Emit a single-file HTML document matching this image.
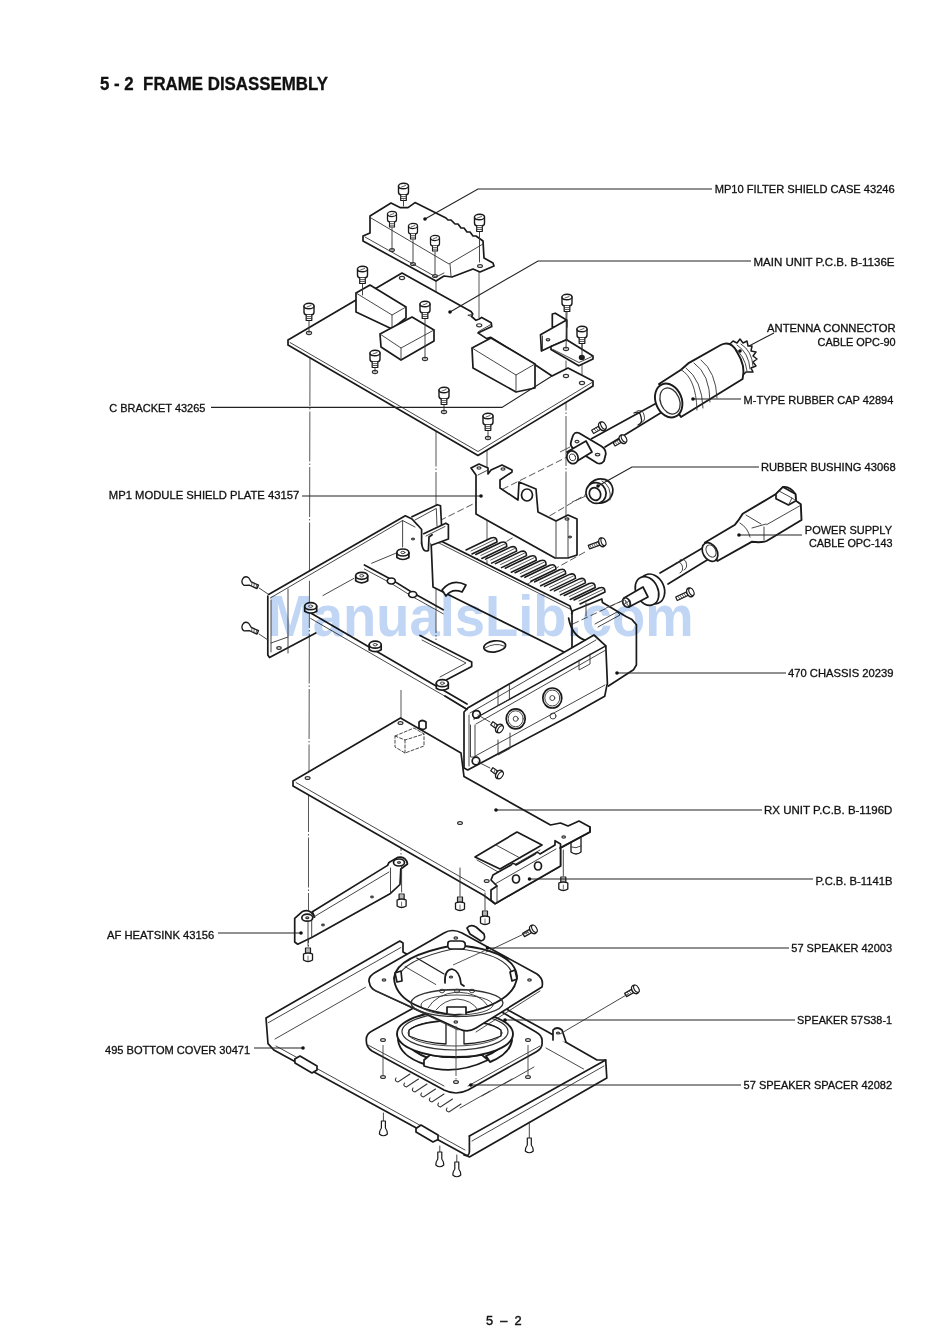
<!DOCTYPE html>
<html><head><meta charset="utf-8"><style>
html,body{margin:0;padding:0;background:#fff;}
body{width:950px;height:1343px;overflow:hidden;}
svg{display:block;}
.t{font-family:"Liberation Sans",sans-serif;font-size:11.1px;fill:#111;stroke:#111;stroke-width:0.3;}
.h{font-family:"Liberation Sans",sans-serif;font-size:17.6px;font-weight:bold;fill:#111;stroke:#111;stroke-width:0.3;}
.ld{stroke:#222;stroke-width:1.1;fill:none;}
.o{stroke:#1a1a1a;stroke-width:1.7;fill:none;stroke-linejoin:round;stroke-linecap:round;}
.f{stroke:#1a1a1a;stroke-width:1.7;fill:#fff;stroke-linejoin:round;stroke-linecap:round;}
.th{stroke:#333;stroke-width:0.9;fill:none;stroke-linecap:round;}
.ds{stroke:#444;stroke-width:0.9;fill:none;stroke-dasharray:50 2 1.5 2;}
.wm{font-family:"Liberation Sans",sans-serif;font-weight:bold;font-size:58px;fill:#c0d6f4;mix-blend-mode:multiply;}
</style></head><body>
<svg width="950" height="1343" viewBox="0 0 950 1343">
<text class="h" x="100" y="89.7" textLength="228" lengthAdjust="spacingAndGlyphs" xml:space="preserve">5 - 2  FRAME DISASSEMBLY</text>

<g id="labels">
<text class="t" x="714.7" y="193.2" textLength="180" lengthAdjust="spacingAndGlyphs">MP10 FILTER SHIELD CASE 43246</text>
<text class="t" x="753.5" y="266" textLength="141" lengthAdjust="spacingAndGlyphs">MAIN UNIT P.C.B. B-1136E</text>
<text class="t" x="767" y="332.3" textLength="128.7" lengthAdjust="spacingAndGlyphs">ANTENNA CONNECTOR</text>
<text class="t" x="817.5" y="345.6" textLength="78.2" lengthAdjust="spacingAndGlyphs">CABLE OPC-90</text>
<text class="t" x="743.6" y="403.75" textLength="149.7" lengthAdjust="spacingAndGlyphs">M-TYPE RUBBER CAP 42894</text>
<text class="t" x="761" y="471.1" textLength="134.6" lengthAdjust="spacingAndGlyphs">RUBBER BUSHING 43068</text>
<text class="t" x="804.8" y="534" textLength="87.2" lengthAdjust="spacingAndGlyphs">POWER SUPPLY</text>
<text class="t" x="808.9" y="546.6" textLength="83.7" lengthAdjust="spacingAndGlyphs">CABLE OPC-143</text>
<text class="t" x="788" y="677.2" textLength="105.5" lengthAdjust="spacingAndGlyphs">470 CHASSIS 20239</text>
<text class="t" x="764" y="814.2" textLength="128.4" lengthAdjust="spacingAndGlyphs">RX UNIT P.C.B. B-1196D</text>
<text class="t" x="815.5" y="884.8" textLength="76.9" lengthAdjust="spacingAndGlyphs">P.C.B. B-1141B</text>
<text class="t" x="791.3" y="952.4" textLength="100.7" lengthAdjust="spacingAndGlyphs">57 SPEAKER 42003</text>
<text class="t" x="797" y="1023.9" textLength="95" lengthAdjust="spacingAndGlyphs">SPEAKER 57S38-1</text>
<text class="t" x="743.6" y="1089.2" textLength="148.4" lengthAdjust="spacingAndGlyphs">57 SPEAKER SPACER 42082</text>
<text class="t" x="109.3" y="411.5" textLength="96.1" lengthAdjust="spacingAndGlyphs">C BRACKET 43265</text>
<text class="t" x="108.8" y="499.3" textLength="190.4" lengthAdjust="spacingAndGlyphs">MP1 MODULE SHIELD PLATE 43157</text>
<text class="t" x="107" y="938.5" textLength="107.3" lengthAdjust="spacingAndGlyphs">AF HEATSINK 43156</text>
<text class="t" x="105" y="1053.9" textLength="145.2" lengthAdjust="spacingAndGlyphs">495 BOTTOM COVER 30471</text>
<text class="t" x="486" y="1325" style="font-size:13.5px;stroke-width:0.45" textLength="35.6" lengthAdjust="spacingAndGlyphs" xml:space="preserve">5  –  2</text>
</g>

<g id="diagram">
<path class="ds" d="M310 356 L309 775"/>
<path class="ds" d="M308.5 782 L308.5 960"/>
<path class="ds" d="M436 250 L436 640"/>
<path class="ds" d="M444 320 L444 420"/>
<path class="ds" d="M479 268 L479 330"/>
<path class="ds" d="M487 440 L487 607"/>
<path class="ds" d="M566 305 L566 519"/>
<path class="ds" d="M582 340 L582 384"/>
<path class="ds" d="M401 690 L401 860"/>
<path class="ds" d="M383 975 L383 1110"/>
<path class="ds" d="M456 1000 L456 1120"/>
<path class="ds" style="stroke-dasharray:7 3" d="M571 455 L437 522"/>
<path class="ds" style="stroke-dasharray:7 3" d="M590 492 L460 569"/>
<path class="ds" style="stroke-dasharray:7 3" d="M585 552 L497 601"/>
<path class="ds" style="stroke-dasharray:7 3" d="M624 600 L560 630"/>
<path class="f" d="M466.0 550.0 L491.0 538.0 Q497.0 536.0 497.0 542.0 L472.0 554.0" style="stroke-width:1.6"/>
<path class="th" d="M471.0 551.0 L495.0 539.5" style="stroke-width:0.8"/>
<path class="f" d="M475.8 554.5 L500.8 542.5 Q506.8 540.5 506.8 546.5 L481.8 558.5" style="stroke-width:1.6"/>
<path class="th" d="M480.8 555.5 L504.8 544.0" style="stroke-width:0.8"/>
<path class="f" d="M485.6 559.1 L510.6 547.1 Q516.6 545.1 516.6 551.1 L491.6 563.1" style="stroke-width:1.6"/>
<path class="th" d="M490.6 560.1 L514.6 548.6" style="stroke-width:0.8"/>
<path class="f" d="M495.5 563.6 L520.5 551.6 Q526.5 549.6 526.5 555.6 L501.5 567.6" style="stroke-width:1.6"/>
<path class="th" d="M500.5 564.6 L524.5 553.1" style="stroke-width:0.8"/>
<path class="f" d="M505.3 568.2 L530.3 556.2 Q536.3 554.2 536.3 560.2 L511.3 572.2" style="stroke-width:1.6"/>
<path class="th" d="M510.3 569.2 L534.3 557.7" style="stroke-width:0.8"/>
<path class="f" d="M515.1 572.7 L540.1 560.7 Q546.1 558.7 546.1 564.7 L521.1 576.7" style="stroke-width:1.6"/>
<path class="th" d="M520.1 573.7 L544.1 562.2" style="stroke-width:0.8"/>
<path class="f" d="M524.9 577.3 L549.9 565.3 Q555.9 563.3 555.9 569.3 L530.9 581.3" style="stroke-width:1.6"/>
<path class="th" d="M529.9 578.3 L553.9 566.8" style="stroke-width:0.8"/>
<path class="f" d="M534.7 581.8 L559.7 569.8 Q565.7 567.8 565.7 573.8 L540.7 585.8" style="stroke-width:1.6"/>
<path class="th" d="M539.7 582.8 L563.7 571.3" style="stroke-width:0.8"/>
<path class="f" d="M544.5 586.4 L569.5 574.4 Q575.5 572.4 575.5 578.4 L550.5 590.4" style="stroke-width:1.6"/>
<path class="th" d="M549.5 587.4 L573.5 575.9" style="stroke-width:0.8"/>
<path class="f" d="M554.4 590.9 L579.4 578.9 Q585.4 576.9 585.4 582.9 L560.4 594.9" style="stroke-width:1.6"/>
<path class="th" d="M559.4 591.9 L583.4 580.4" style="stroke-width:0.8"/>
<path class="f" d="M564.2 595.5 L589.2 583.5 Q595.2 581.5 595.2 587.5 L570.2 599.5" style="stroke-width:1.6"/>
<path class="th" d="M569.2 596.5 L593.2 585.0" style="stroke-width:0.8"/>
<path class="f" d="M574.0 600.0 L599.0 588.0 Q605.0 586.0 605.0 592.0 L580.0 604.0" style="stroke-width:1.6"/>
<path class="th" d="M579.0 601.0 L603.0 589.5" style="stroke-width:0.8"/>
<path class="f" d="M431.0 536.0 L570.0 606.0 L572.0 612.0 L572.0 656.0 L433.0 587.0 L431.0 540.0 Z" />
<path class="th" d="M433.0 540.0 L570.0 609.0" />
<path class="f" d="M412.0 516.8 L437.4 504.7 L440.5 505.8 L441.6 526.3 L430.0 532.0" />
<path class="th" d="M415.0 520.0 L436.3 508.4 L437.0 526.0" />
<path class="f" d="M423.7 533.7 L445.8 523.2 L448.4 524.7 L448.4 539.0 L432.0 545.0" />
<path class="th" d="M426.0 536.0 L445.0 526.5" />
<path class="f" d="M268.6 594.4 L405.3 515.8 L412.0 519.0 L417.9 525.3 L421.6 529.5 L421.6 543.0" />
<path class="o" d="M421.6 543 Q422.7 553 428.4 550.5 L429 537 L432.1 534.7" />
<path class="th" d="M270.3 598.0 L402.6 520.5 L415.0 527.0" />
<path class="th" d="M402.6 520.5 L402.6 547.0" />
<ellipse class="th" cx="413" cy="539" rx="1.5" ry="0.8999999999999999" transform="rotate(0 413 539)" style="stroke-width:1.2"/>
<path class="o" d="M267.8 596.0 L267.8 655.0 L269.5 657.5 L315.8 633.0" />
<path class="th" d="M271.0 600.0 L271.0 652.0" />
<path class="th" d="M288.0 589.0 L288.0 653.0" />
<path class="th" d="M271.0 643.0 L288.0 637.0" />
<ellipse class="th" cx="279" cy="648" rx="2.2" ry="1.32" transform="rotate(0 279 648)" style="stroke-width:1.2"/>
<path class="o" d="M310.7 613.0 L467.0 704.0" />
<path class="th" d="M310.7 618.5 L467.0 709.0" />
<path class="th" d="M323.0 595.5 L353.7 578.5" />
<path class="th" d="M371.6 563.3 L397.5 552.5" />
<path class="o" d="M364.4 565.0 L391.3 579.4 L412.7 592.8 L443.2 609.8" />
<path class="th" d="M364.4 569.0 L391.3 583.4 L412.7 596.8 L443.2 613.8" />
<ellipse class="f" cx="391.3" cy="581" rx="4" ry="3" transform="rotate(0 391.3 581)" />
<ellipse class="f" cx="412.7" cy="594.5" rx="4" ry="3" transform="rotate(0 412.7 594.5)" />
<path class="o" d="M420.0 635.5 L471.7 662.0 L471.7 666.5 L446.6 679.7" />
<path class="th" d="M422.0 640.0 L466.0 663.0 L440.0 677.0" />
<path class="f" d="M396.9 552.5 L396.9 557.5 Q402.9 561.5 408.9 557.5 L408.9 552.5" />
<ellipse class="f" cx="402.9" cy="552.5" rx="6" ry="3.5" transform="rotate(0 402.9 552.5)" />
<ellipse class="th" cx="402.9" cy="552.5" rx="2" ry="1.2" transform="rotate(0 402.9 552.5)" />
<path class="f" d="M355.7 575.8 L355.7 580.8 Q361.7 584.8 367.7 580.8 L367.7 575.8" />
<ellipse class="f" cx="361.7" cy="575.8" rx="6" ry="3.5" transform="rotate(0 361.7 575.8)" />
<ellipse class="th" cx="361.7" cy="575.8" rx="2" ry="1.2" transform="rotate(0 361.7 575.8)" />
<path class="f" d="M304.7 606.2 L304.7 611.2 Q310.7 615.2 316.7 611.2 L316.7 606.2" />
<ellipse class="f" cx="310.7" cy="606.2" rx="6" ry="3.5" transform="rotate(0 310.7 606.2)" />
<ellipse class="th" cx="310.7" cy="606.2" rx="2" ry="1.2" transform="rotate(0 310.7 606.2)" />
<path class="f" d="M369.2 644.7 L369.2 649.7 Q375.2 653.7 381.2 649.7 L381.2 644.7" />
<ellipse class="f" cx="375.2" cy="644.7" rx="6" ry="3.5" transform="rotate(0 375.2 644.7)" />
<ellipse class="th" cx="375.2" cy="644.7" rx="2" ry="1.2" transform="rotate(0 375.2 644.7)" />
<path class="f" d="M436.3 683.2 L436.3 688.2 Q442.3 692.2 448.3 688.2 L448.3 683.2" />
<ellipse class="f" cx="442.3" cy="683.2" rx="6" ry="3.5" transform="rotate(0 442.3 683.2)" />
<ellipse class="th" cx="442.3" cy="683.2" rx="2" ry="1.2" transform="rotate(0 442.3 683.2)" />
<ellipse class="o" cx="494.7" cy="646.4" rx="11" ry="5.5" transform="rotate(-8 494.7 646.4)" />
<path class="th" d="M485 648 Q495 642 504 646" />
<path class="f" d="M442 590 Q452 578 466 585 L462 592 Q452 588 446 596 Z" />
<path class="f" d="M467.7 708.0 L594.0 635.0 L605.8 645.8 L607.4 683.7 L606.8 685.8 L604.7 696.3 L570.0 715.7 L467.7 770.0 L464.0 768.0 L464.0 712.0 Z" />
<path class="th" d="M470.0 713.0 L596.0 640.0" />
<path class="o" d="M474.0 719.0 L605.8 645.8" style="stroke-width:1.4"/>
<path class="th" d="M476.0 724.0 L605.0 650.5" />
<path class="th" d="M475.3 756.0 L605.0 685.0" />
<path class="th" d="M469.0 715.0 L469.0 766.0" />
<path class="th" d="M470.5 725.0 L470.5 757.0 L475.0 757.0 L475.0 725.0" />
<ellipse class="o" cx="552.3" cy="698" rx="9.5" ry="10" transform="rotate(0 552.3 698)" />
<ellipse class="th" cx="552.3" cy="698" rx="7.5" ry="8" transform="rotate(0 552.3 698)" />
<ellipse class="th" cx="552.3" cy="698" rx="2.5" ry="2.5" transform="rotate(0 552.3 698)" />
<ellipse class="o" cx="515.7" cy="718.8" rx="9.5" ry="10" transform="rotate(0 515.7 718.8)" />
<ellipse class="th" cx="515.7" cy="718.8" rx="7.5" ry="8" transform="rotate(0 515.7 718.8)" />
<ellipse class="th" cx="515.7" cy="718.8" rx="2.5" ry="2.5" transform="rotate(0 515.7 718.8)" />
<path class="th" d="M498.0 690.0 L498.0 705.6 L509.4 699.5 L509.4 684.0" />
<path class="th" d="M498.0 740.0 L498.0 755.0 L510.0 748.5 L510.0 733.0" />
<path class="th" d="M579.0 660.0 L579.0 670.0 L590.0 664.0 L590.0 654.0" />
<ellipse class="o" cx="476.5" cy="714.4" rx="3.8" ry="3.8" transform="rotate(0 476.5 714.4)" />
<ellipse class="o" cx="476" cy="761" rx="3.8" ry="3.8" transform="rotate(0 476 761)" />
<ellipse class="th" cx="553" cy="716" rx="3" ry="3" transform="rotate(0 553 716)" />
<path class="o" d="M571.6 613.7 L573.0 610.7 L601.8 599.0 L602.5 602.6 L626.0 616.6 L632.0 619.6 L636.4 624.7 L636.4 665.0 L633.5 669.7 L608.4 686.0" />
<path class="o" d="M568.6 618 Q572 636 585 640" />
<path class="th" d="M595.0 624.0 L617.0 612.0 L620.0 615.0 L598.0 627.0" />
<path class="th" d="M586.0 603.0 L586.0 616.0" />
<path class="th" d="M584.0 606.0 L588.0 604.0" />
<path class="o" d="M445.0 696.0 L467.1 709.4" />
<g transform="translate(245 581) rotate(25) scale(1.0)"><path class="f" style="stroke-width:1.3" d="M6 -1.9 L2 -4.5 Q-2.5 -5 -3 -1 Q-3 4 1 4.3 L6 1.9 L14 1.9 L14 -1.9 Z"/><path class="th" style="stroke-width:0.7" d="M7 -1.8 L8 1.8 M9.5 -1.8 L10.5 1.8 M12 -1.8 L13 1.8"/></g>
<g transform="translate(245 626.5) rotate(25) scale(1.0)"><path class="f" style="stroke-width:1.3" d="M6 -1.9 L2 -4.5 Q-2.5 -5 -3 -1 Q-3 4 1 4.3 L6 1.9 L14 1.9 L14 -1.9 Z"/><path class="th" style="stroke-width:0.7" d="M7 -1.8 L8 1.8 M9.5 -1.8 L10.5 1.8 M12 -1.8 L13 1.8"/></g>
<path class="th" d="M259 588 L268 594"/>
<path class="th" d="M259 634 L268 640"/>
<g transform="translate(500 729) rotate(-145) scale(1.0)"><path class="f" style="stroke-width:1.2" d="M2 -1.9 L10 -1.9 L10 1.9 L2 1.9 Z"/><path class="th" style="stroke-width:0.7" d="M4.0 -1.9 L5.0 1.9 M6.2 -1.9 L7.2 1.9"/><ellipse class="f" style="stroke-width:1.4" cx="1" cy="0" rx="3.2" ry="4.6"/><ellipse class="f" style="stroke-width:1.1" cx="-0.5" cy="0" rx="2.2" ry="4"/></g>
<g transform="translate(500 775) rotate(-145) scale(1.0)"><path class="f" style="stroke-width:1.2" d="M2 -1.9 L10 -1.9 L10 1.9 L2 1.9 Z"/><path class="th" style="stroke-width:0.7" d="M4.0 -1.9 L5.0 1.9 M6.2 -1.9 L7.2 1.9"/><ellipse class="f" style="stroke-width:1.4" cx="1" cy="0" rx="3.2" ry="4.6"/><ellipse class="f" style="stroke-width:1.1" cx="-0.5" cy="0" rx="2.2" ry="4"/></g>
<path class="th" d="M478 715 L490 722"/>
<path class="th" d="M478 762 L490 768"/>
<path class="f" d="M471.0 468.0 L479.0 464.0 L488.0 468.0 L488.0 474.0 L491.0 470.0 L502.0 465.0 L512.0 470.0 L512.0 472.0 L500.0 480.0 L500.0 488.0 L518.0 500.0 L519.0 482.0 L536.0 489.0 L538.0 512.0 L556.0 521.0 L568.0 515.0 L577.0 519.0 L577.0 555.0 L568.0 558.0 L555.0 558.0 L476.0 514.0 L476.0 475.0 Z" />
<path class="th" d="M478.0 475.0 L488.0 470.0" />
<path class="th" d="M556.0 521.0 L556.0 558.0" />
<path class="th" d="M568.0 518.0 L568.0 557.0" />
<ellipse class="o" cx="527" cy="495" rx="5.5" ry="6" transform="rotate(0 527 495)" />
<ellipse class="th" cx="479" cy="468" rx="2" ry="1.2" transform="rotate(0 479 468)" style="stroke-width:1.2"/>
<ellipse class="th" cx="503" cy="469" rx="2" ry="1.2" transform="rotate(0 503 469)" style="stroke-width:1.2"/>
<ellipse class="th" cx="567" cy="519" rx="2" ry="1.2" transform="rotate(0 567 519)" style="stroke-width:1.2"/>
<ellipse class="th" cx="570" cy="537" rx="1.5" ry="0.8999999999999999" transform="rotate(0 570 537)" style="stroke-width:1.2"/>
<g transform="translate(603 542) rotate(160) scale(1.0)"><path class="f" style="stroke-width:1.2" d="M2 -1.9 L15 -1.9 L15 1.9 L2 1.9 Z"/><path class="th" style="stroke-width:0.7" d="M4.0 -1.9 L5.0 1.9 M6.2 -1.9 L7.2 1.9 M8.4 -1.9 L9.4 1.9 M10.6 -1.9 L11.6 1.9 M12.8 -1.9 L13.8 1.9"/><ellipse class="f" style="stroke-width:1.4" cx="1" cy="0" rx="3.2" ry="4.6"/><ellipse class="f" style="stroke-width:1.1" cx="-0.5" cy="0" rx="2.2" ry="4"/></g>
<path class="f" d="M370.0 216.0 L391.0 203.0 L400.0 207.6 L408.0 207.6 L415.0 202.6 L446.0 218.0 L448.0 220.0 L451.0 220.0 L455.0 224.0 L458.0 224.0 L461.0 228.0 L464.0 228.0 L467.0 232.0 L470.0 232.0 L473.0 236.0 L476.0 236.0 L483.0 241.0 L484.0 258.0 L493.0 263.0 L494.0 266.0 L480.0 272.0 L473.0 269.0 L452.0 277.0 L444.0 276.0 L436.0 281.0 L363.0 241.0 L363.0 236.0 L370.0 233.0 Z" />
<path class="th" d="M371.0 218.0 L449.0 264.0 L483.0 244.0" />
<path class="th" d="M450.0 264.0 L451.0 276.0" />
<path class="th" d="M365.0 237.0 L436.0 277.0 L444.0 273.0" />
<path class="th" d="M392 228 L392 250"/>
<path class="th" d="M413 240 L413 262"/>
<path class="th" d="M435 252 L435 274"/>
<ellipse class="th" cx="392" cy="250" rx="2.4" ry="1.44" transform="rotate(0 392 250)" style="stroke-width:1.2"/>
<ellipse class="th" cx="413" cy="264" rx="2.4" ry="1.44" transform="rotate(0 413 264)" style="stroke-width:1.2"/>
<ellipse class="th" cx="435" cy="276" rx="2.4" ry="1.44" transform="rotate(0 435 276)" style="stroke-width:1.2"/>
<ellipse class="th" cx="480" cy="266" rx="2.4" ry="1.44" transform="rotate(0 480 266)" style="stroke-width:1.2"/>
<g transform="translate(403.5 186) scale(1.0)"><path class="f" style="stroke-width:1.4" d="M-5 0 L-5 6 Q-5 8.5 -2.6 8.8 L2.6 8.8 Q5 8.5 5 6 L5 0"/><ellipse class="f" style="stroke-width:1.4" cx="0" cy="0" rx="5" ry="2.8"/><path class="f" style="stroke-width:1.2" d="M-2.8 8.8 L-2.8 14.5 L2.8 14.5 L2.8 8.8"/><path class="th" style="stroke-width:0.8" d="M-2.8 10.6 L2.8 10.6 M-2.8 12.5 L2.8 12.5"/><path class="th" style="stroke-width:0.8" d="M-2 1 L2 -0.5"/></g>
<g transform="translate(392 214) scale(0.9)"><path class="f" style="stroke-width:1.4" d="M-5 0 L-5 6 Q-5 8.5 -2.6 8.8 L2.6 8.8 Q5 8.5 5 6 L5 0"/><ellipse class="f" style="stroke-width:1.4" cx="0" cy="0" rx="5" ry="2.8"/><path class="f" style="stroke-width:1.2" d="M-2.8 8.8 L-2.8 14.5 L2.8 14.5 L2.8 8.8"/><path class="th" style="stroke-width:0.8" d="M-2.8 10.6 L2.8 10.6 M-2.8 12.5 L2.8 12.5"/><path class="th" style="stroke-width:0.8" d="M-2 1 L2 -0.5"/></g>
<g transform="translate(413 226) scale(0.9)"><path class="f" style="stroke-width:1.4" d="M-5 0 L-5 6 Q-5 8.5 -2.6 8.8 L2.6 8.8 Q5 8.5 5 6 L5 0"/><ellipse class="f" style="stroke-width:1.4" cx="0" cy="0" rx="5" ry="2.8"/><path class="f" style="stroke-width:1.2" d="M-2.8 8.8 L-2.8 14.5 L2.8 14.5 L2.8 8.8"/><path class="th" style="stroke-width:0.8" d="M-2.8 10.6 L2.8 10.6 M-2.8 12.5 L2.8 12.5"/><path class="th" style="stroke-width:0.8" d="M-2 1 L2 -0.5"/></g>
<g transform="translate(435 238) scale(0.9)"><path class="f" style="stroke-width:1.4" d="M-5 0 L-5 6 Q-5 8.5 -2.6 8.8 L2.6 8.8 Q5 8.5 5 6 L5 0"/><ellipse class="f" style="stroke-width:1.4" cx="0" cy="0" rx="5" ry="2.8"/><path class="f" style="stroke-width:1.2" d="M-2.8 8.8 L-2.8 14.5 L2.8 14.5 L2.8 8.8"/><path class="th" style="stroke-width:0.8" d="M-2.8 10.6 L2.8 10.6 M-2.8 12.5 L2.8 12.5"/><path class="th" style="stroke-width:0.8" d="M-2 1 L2 -0.5"/></g>
<g transform="translate(479.5 217) scale(1.0)"><path class="f" style="stroke-width:1.4" d="M-5 0 L-5 6 Q-5 8.5 -2.6 8.8 L2.6 8.8 Q5 8.5 5 6 L5 0"/><ellipse class="f" style="stroke-width:1.4" cx="0" cy="0" rx="5" ry="2.8"/><path class="f" style="stroke-width:1.2" d="M-2.8 8.8 L-2.8 14.5 L2.8 14.5 L2.8 8.8"/><path class="th" style="stroke-width:0.8" d="M-2.8 10.6 L2.8 10.6 M-2.8 12.5 L2.8 12.5"/><path class="th" style="stroke-width:0.8" d="M-2 1 L2 -0.5"/></g>
<path class="th" d="M479.5 232 L479.5 262"/>
<path class="th" d="M403.5 200 L403.5 206"/>
<path class="f" d="M288.0 340.0 L402.0 273.0 L471.0 311.4 L472.8 314.0 L471.6 316.5 L476.0 320.3 L479.2 319.0 L481.7 317.4 L491.2 322.8 L491.8 326.6 L477.9 332.9 L486.7 338.6 L490.5 337.3 L534.0 364.0 L552.0 376.0 L568.0 368.0 L593.0 381.0 L593.0 386.0 L478.0 455.5 L288.0 345.0 Z" />
<path class="th" d="M290.0 342.5 L478.0 451.5 L592.0 382.5" />
<path class="f" d="M356.0 293.0 L370.0 285.0 L406.0 307.0 L406.0 318.0 L392.0 329.0 L356.0 312.0 Z" />
<path class="th" d="M356.0 293.0 L392.0 315.0 L406.0 307.0" />
<path class="th" d="M392.0 315.0 L392.0 329.0" />
<path class="f" d="M380.0 334.0 L412.0 317.0 L434.0 330.0 L434.0 341.0 L401.0 360.0 L381.0 347.0 Z" />
<path class="th" d="M380.0 334.0 L401.0 348.0 L434.0 330.0" />
<path class="th" d="M401.0 348.0 L401.0 360.0" />
<path class="f" d="M472.0 348.0 L491.0 338.0 L535.0 364.0 L535.0 388.0 L516.0 392.0 L473.0 368.0 Z" />
<path class="th" d="M472.0 348.0 L516.0 375.0 L535.0 364.0" />
<path class="th" d="M516.0 375.0 L516.0 392.0" />
<path class="f" d="M552.3 327.0 L552.3 314.0 L555.3 313.2 L566.6 320.0 L566.6 327.0 Z" />
<path class="f" d="M540.5 334.7 L566.6 320.0 L566.6 339.7 L551.0 346.5 L541.4 351.0 Z" />
<path class="th" d="M542.5 336.0 L542.5 350.0" />
<path class="f" d="M551.0 346.5 L566.6 339.7 L593.0 356.0 L593.0 359.0 L578.8 365.8 L551.0 349.5 Z" />
<path class="th" d="M553.0 349.5 L579.0 362.5 L592.0 356.5" />
<ellipse class="th" cx="548" cy="339.7" rx="1.8" ry="1.08" transform="rotate(0 548 339.7)" style="stroke-width:1.2"/>
<ellipse class="o" cx="581.8" cy="357.4" rx="2.2" ry="1.8" transform="rotate(0 581.8 357.4)" style="fill:#111"/>
<path class="th" d="M309 321 L309 333"/>
<path class="th" d="M362.5 284 L362.5 295"/>
<path class="th" d="M425 319 L425 359"/>
<path class="th" d="M375 368 L375 372"/>
<path class="th" d="M444 405 L444 412"/>
<path class="th" d="M488 431 L488 438"/>
<path class="th" d="M567 312 L566 349"/>
<path class="th" d="M582 344 L582 358"/>
<path class="th" d="M478.5 331.5 L491.0 324.5" />
<path class="th" d="M472.5 314.5 L467.8 315.2 L471 316.2" />
<ellipse class="th" cx="309" cy="333" rx="2.6" ry="1.56" transform="rotate(0 309 333)" style="stroke-width:1.2"/>
<ellipse class="th" cx="425" cy="359" rx="2.6" ry="1.56" transform="rotate(0 425 359)" style="stroke-width:1.2"/>
<ellipse class="th" cx="375" cy="372" rx="2.6" ry="1.56" transform="rotate(0 375 372)" style="stroke-width:1.2"/>
<ellipse class="th" cx="444" cy="412" rx="2.6" ry="1.56" transform="rotate(0 444 412)" style="stroke-width:1.2"/>
<ellipse class="th" cx="488" cy="438" rx="2.6" ry="1.56" transform="rotate(0 488 438)" style="stroke-width:1.2"/>
<ellipse class="th" cx="566" cy="349" rx="2.6" ry="1.56" transform="rotate(0 566 349)" style="stroke-width:1.2"/>
<ellipse class="th" cx="566" cy="376" rx="2.6" ry="1.56" transform="rotate(0 566 376)" style="stroke-width:1.2"/>
<ellipse class="th" cx="582" cy="383" rx="2.6" ry="1.56" transform="rotate(0 582 383)" style="stroke-width:1.2"/>
<ellipse class="th" cx="402" cy="278" rx="2.6" ry="1.56" transform="rotate(0 402 278)" style="stroke-width:1.2"/>
<ellipse class="th" cx="479.2" cy="325.3" rx="2.6" ry="1.56" transform="rotate(0 479.2 325.3)" style="stroke-width:1.2"/>
<g transform="translate(309 306) scale(1.0)"><path class="f" style="stroke-width:1.4" d="M-5 0 L-5 6 Q-5 8.5 -2.6 8.8 L2.6 8.8 Q5 8.5 5 6 L5 0"/><ellipse class="f" style="stroke-width:1.4" cx="0" cy="0" rx="5" ry="2.8"/><path class="f" style="stroke-width:1.2" d="M-2.8 8.8 L-2.8 14.5 L2.8 14.5 L2.8 8.8"/><path class="th" style="stroke-width:0.8" d="M-2.8 10.6 L2.8 10.6 M-2.8 12.5 L2.8 12.5"/><path class="th" style="stroke-width:0.8" d="M-2 1 L2 -0.5"/></g>
<g transform="translate(362.5 269) scale(1.0)"><path class="f" style="stroke-width:1.4" d="M-5 0 L-5 6 Q-5 8.5 -2.6 8.8 L2.6 8.8 Q5 8.5 5 6 L5 0"/><ellipse class="f" style="stroke-width:1.4" cx="0" cy="0" rx="5" ry="2.8"/><path class="f" style="stroke-width:1.2" d="M-2.8 8.8 L-2.8 14.5 L2.8 14.5 L2.8 8.8"/><path class="th" style="stroke-width:0.8" d="M-2.8 10.6 L2.8 10.6 M-2.8 12.5 L2.8 12.5"/><path class="th" style="stroke-width:0.8" d="M-2 1 L2 -0.5"/></g>
<g transform="translate(425 304) scale(1.0)"><path class="f" style="stroke-width:1.4" d="M-5 0 L-5 6 Q-5 8.5 -2.6 8.8 L2.6 8.8 Q5 8.5 5 6 L5 0"/><ellipse class="f" style="stroke-width:1.4" cx="0" cy="0" rx="5" ry="2.8"/><path class="f" style="stroke-width:1.2" d="M-2.8 8.8 L-2.8 14.5 L2.8 14.5 L2.8 8.8"/><path class="th" style="stroke-width:0.8" d="M-2.8 10.6 L2.8 10.6 M-2.8 12.5 L2.8 12.5"/><path class="th" style="stroke-width:0.8" d="M-2 1 L2 -0.5"/></g>
<g transform="translate(375 353) scale(1.0)"><path class="f" style="stroke-width:1.4" d="M-5 0 L-5 6 Q-5 8.5 -2.6 8.8 L2.6 8.8 Q5 8.5 5 6 L5 0"/><ellipse class="f" style="stroke-width:1.4" cx="0" cy="0" rx="5" ry="2.8"/><path class="f" style="stroke-width:1.2" d="M-2.8 8.8 L-2.8 14.5 L2.8 14.5 L2.8 8.8"/><path class="th" style="stroke-width:0.8" d="M-2.8 10.6 L2.8 10.6 M-2.8 12.5 L2.8 12.5"/><path class="th" style="stroke-width:0.8" d="M-2 1 L2 -0.5"/></g>
<g transform="translate(444 390) scale(1.0)"><path class="f" style="stroke-width:1.4" d="M-5 0 L-5 6 Q-5 8.5 -2.6 8.8 L2.6 8.8 Q5 8.5 5 6 L5 0"/><ellipse class="f" style="stroke-width:1.4" cx="0" cy="0" rx="5" ry="2.8"/><path class="f" style="stroke-width:1.2" d="M-2.8 8.8 L-2.8 14.5 L2.8 14.5 L2.8 8.8"/><path class="th" style="stroke-width:0.8" d="M-2.8 10.6 L2.8 10.6 M-2.8 12.5 L2.8 12.5"/><path class="th" style="stroke-width:0.8" d="M-2 1 L2 -0.5"/></g>
<g transform="translate(488 416) scale(1.0)"><path class="f" style="stroke-width:1.4" d="M-5 0 L-5 6 Q-5 8.5 -2.6 8.8 L2.6 8.8 Q5 8.5 5 6 L5 0"/><ellipse class="f" style="stroke-width:1.4" cx="0" cy="0" rx="5" ry="2.8"/><path class="f" style="stroke-width:1.2" d="M-2.8 8.8 L-2.8 14.5 L2.8 14.5 L2.8 8.8"/><path class="th" style="stroke-width:0.8" d="M-2.8 10.6 L2.8 10.6 M-2.8 12.5 L2.8 12.5"/><path class="th" style="stroke-width:0.8" d="M-2 1 L2 -0.5"/></g>
<g transform="translate(567 297) scale(1.0)"><path class="f" style="stroke-width:1.4" d="M-5 0 L-5 6 Q-5 8.5 -2.6 8.8 L2.6 8.8 Q5 8.5 5 6 L5 0"/><ellipse class="f" style="stroke-width:1.4" cx="0" cy="0" rx="5" ry="2.8"/><path class="f" style="stroke-width:1.2" d="M-2.8 8.8 L-2.8 14.5 L2.8 14.5 L2.8 8.8"/><path class="th" style="stroke-width:0.8" d="M-2.8 10.6 L2.8 10.6 M-2.8 12.5 L2.8 12.5"/><path class="th" style="stroke-width:0.8" d="M-2 1 L2 -0.5"/></g>
<g transform="translate(582 329) scale(1.0)"><path class="f" style="stroke-width:1.4" d="M-5 0 L-5 6 Q-5 8.5 -2.6 8.8 L2.6 8.8 Q5 8.5 5 6 L5 0"/><ellipse class="f" style="stroke-width:1.4" cx="0" cy="0" rx="5" ry="2.8"/><path class="f" style="stroke-width:1.2" d="M-2.8 8.8 L-2.8 14.5 L2.8 14.5 L2.8 8.8"/><path class="th" style="stroke-width:0.8" d="M-2.8 10.6 L2.8 10.6 M-2.8 12.5 L2.8 12.5"/><path class="th" style="stroke-width:0.8" d="M-2 1 L2 -0.5"/></g>
<path class="o" d="M673.6 393.7 L591.5 438.8" />
<path class="o" d="M677.7 402.6 L605.0 447.0" />
<path class="o" d="M634 413 Q640 410 641 417 Q643 423 638 425" style="stroke-width:1.3"/>
<path class="th" d="M637 411 Q643 409 644 415 Q646 421 641 423" />
<path class="f" d="M729 345 L733 341 L737 343 L740 339 L743 343 L747 341 L748 346 L752 346 L751 351 L756 352 L753 356 L757 359 L753 362 L756 366 L751 368 L753 372 L746 372 L742 376" style="stroke-width:1.5"/>
<path class="th" d="M733 347 Q745 355 747 371 M737 345 Q749 353 750 369 M741 344 Q752 351 753 366" />
<path class="f" d="M659 384 L681 369.7 L689 362.8 L720.7 345 Q731 340 737 352 Q746 366 742.6 379 L681 417 Z" style="stroke-width:1.9"/>
<ellipse class="f" cx="668.7" cy="400.5" rx="13" ry="17.5" transform="rotate(-22 668.7 400.5)" style="stroke-width:1.9"/>
<ellipse class="th" cx="670" cy="401" rx="9.5" ry="13.5" transform="rotate(-22 670 401)" style="stroke-width:1.3"/>
<path class="th" d="M686 368 Q702 380 703 408 M694 363 Q710 374 710 402 M701 360 Q716 372 717 398" />
<path class="th" d="M681 369.7 Q696 378 697 410" />
<path class="f" d="M572.3 437.5 Q574 431 579 433 L601 446 Q606 449 605.8 454 L604 461 Q601 465 597 463 L573 448 Q570 446 571 442 Z" style="stroke-width:1.8"/>
<ellipse class="th" cx="577" cy="441.6" rx="2" ry="1.2" transform="rotate(0 577 441.6)" style="stroke-width:1.2"/>
<ellipse class="th" cx="597.6" cy="454.6" rx="2.2" ry="1.32" transform="rotate(0 597.6 454.6)" style="stroke-width:1.2"/>
<path class="f" d="M567 452 L586 441 L592 452 L574 463 Z" />
<ellipse class="f" cx="572.5" cy="457.3" rx="5.5" ry="6.5" transform="rotate(-20 572.5 457.3)" />
<ellipse class="th" cx="572.5" cy="457.3" rx="3" ry="3.5" transform="rotate(-20 572.5 457.3)" />
<g transform="translate(603 425.8) rotate(150) scale(1.0)"><path class="f" style="stroke-width:1.2" d="M2 -1.9 L12 -1.9 L12 1.9 L2 1.9 Z"/><path class="th" style="stroke-width:0.7" d="M4.0 -1.9 L5.0 1.9 M6.2 -1.9 L7.2 1.9 M8.4 -1.9 L9.4 1.9"/><ellipse class="f" style="stroke-width:1.4" cx="1" cy="0" rx="3.2" ry="4.6"/><ellipse class="f" style="stroke-width:1.1" cx="-0.5" cy="0" rx="2.2" ry="4"/></g>
<g transform="translate(623.6 438.8) rotate(150) scale(1.0)"><path class="f" style="stroke-width:1.2" d="M2 -1.9 L11 -1.9 L11 1.9 L2 1.9 Z"/><path class="th" style="stroke-width:0.7" d="M4.0 -1.9 L5.0 1.9 M6.2 -1.9 L7.2 1.9 M8.4 -1.9 L9.4 1.9"/><ellipse class="f" style="stroke-width:1.4" cx="1" cy="0" rx="3.2" ry="4.6"/><ellipse class="f" style="stroke-width:1.1" cx="-0.5" cy="0" rx="2.2" ry="4"/></g>
<path class="ds" d="M560 452 L570 447"/>
<ellipse class="f" cx="600" cy="491" rx="13" ry="12" transform="rotate(-25 600 491)" />
<ellipse class="f" cx="596" cy="493" rx="10" ry="10.5" transform="rotate(-25 596 493)" />
<ellipse class="o" cx="595" cy="494" rx="5.5" ry="6.5" transform="rotate(-25 595 494)" />
<path class="th" d="M602 481 Q612 486 610 500" />
<path class="ds" d="M572 502 L586 496"/>
<path class="o" d="M660.0 573.0 L706.0 546.0" />
<path class="o" d="M668.0 584.0 L712.0 557.0" />
<path class="th" d="M680 560 Q684 558 686 562 Q688 568 684 570" />
<path class="th" d="M676 563 Q680 561 682 565 Q684 571 680 573" />
<path class="f" d="M705 542.5 L735 524.7 Q739 520 742.7 513.8 L776 494 L783 487 Q790 486 795.4 494 L796 500.8 L800.8 504.2 L801.5 520 L766.6 541 Q762 543 751.6 541.8 L717.4 561 Z" style="stroke-width:1.9"/>
<ellipse class="f" cx="710" cy="552" rx="7" ry="10" transform="rotate(-30 710 552)" style="stroke-width:1.7"/>
<ellipse class="th" cx="711" cy="551" rx="4.5" ry="6.5" transform="rotate(-30 711 551)" />
<path class="f" d="M776.0 494.0 L783.0 487.0 L795.4 494.0 L796.0 500.8 L788.5 505.0 L776.0 498.7 Z" />
<path class="th" d="M779 491 L792 498 L788.5 505 M792 498 L796 500.8" />
<path class="th" d="M746 515 L761 524 M766.6 524.7 L799.5 506 M740 523 Q748 528 750 537 M764 527 L764 540 M752 528 L766 524" />
<ellipse class="f" cx="652" cy="589" rx="12" ry="15.5" transform="rotate(-25 652 589)" />
<ellipse class="f" cx="647" cy="591" rx="11" ry="15" transform="rotate(-25 647 591)" />
<path class="f" d="M624 598 L643 587 L648 597 L629 607 Z" />
<ellipse class="f" cx="626.5" cy="602.5" rx="3.5" ry="5" transform="rotate(-30 626.5 602.5)" />
<ellipse class="th" cx="624.5" cy="602" rx="1.6" ry="2" transform="rotate(0 624.5 602)" />
<ellipse class="th" cx="628.5" cy="603.5" rx="1.6" ry="2" transform="rotate(0 628.5 603.5)" />
<g transform="translate(691 592) rotate(155) scale(1.0)"><path class="f" style="stroke-width:1.2" d="M2 -1.9 L16 -1.9 L16 1.9 L2 1.9 Z"/><path class="th" style="stroke-width:0.7" d="M4.0 -1.9 L5.0 1.9 M6.2 -1.9 L7.2 1.9 M8.4 -1.9 L9.4 1.9 M10.6 -1.9 L11.6 1.9 M12.8 -1.9 L13.8 1.9"/><ellipse class="f" style="stroke-width:1.4" cx="1" cy="0" rx="3.2" ry="4.6"/><ellipse class="f" style="stroke-width:1.1" cx="-0.5" cy="0" rx="2.2" ry="4"/></g>
<path class="ds" d="M606 608 L624 600"/>
<path class="f" d="M293.0 781.0 L400.5 718.0 L461.0 753.0 L464.0 776.6 L550.5 825.0 L560.5 823.0 L568.0 826.0 L579.0 821.0 L590.0 827.0 L590.0 832.0 L560.5 848.0 L560.5 866.0 L495.0 903.7 L484.0 895.5 L293.0 786.0 Z" />
<path class="th" d="M296.0 782.5 L485.0 891.0" />
<path class="f" d="M419 726 L419 722 Q422 719 426 722 L426 728 Q423 731 419 728 Z" />
<path class="th" d="M395 736 L414 728 L424 734 L424 746 L405 753 L395 747 Z" style="stroke-dasharray:3 2"/>
<path class="th" d="M405 740 L405 753 M395 736 L405 740 L424 734" style="stroke-dasharray:3 2"/>
<ellipse class="th" cx="307.6" cy="778" rx="2.4" ry="1.44" transform="rotate(0 307.6 778)" style="stroke-width:1.2"/>
<ellipse class="th" cx="400.5" cy="723" rx="2.4" ry="1.44" transform="rotate(0 400.5 723)" style="stroke-width:1.2"/>
<ellipse class="th" cx="460" cy="823" rx="2.4" ry="1.44" transform="rotate(0 460 823)" style="stroke-width:1.2"/>
<ellipse class="th" cx="486.7" cy="881" rx="2.4" ry="1.44" transform="rotate(0 486.7 881)" style="stroke-width:1.2"/>
<path class="f" d="M475.0 857.0 L517.0 832.0 L542.0 845.0 L500.0 869.0 Z" />
<path class="th" d="M477.0 860.0 L500.0 873.0 L540.0 850.0" />
<path class="th" d="M496.0 845.0 L520.0 858.0" />
<path class="f" d="M491 880 L493 875 L511 865 Q513 862 516 865 L535 854 Q537 851 540 854 L555 845 L555 840.7 L560.5 844 L560.5 866 L495 903.7 L491 900 L491 890 L497 886 Z" />
<path class="th" d="M495.0 884.0 L556.0 849.0" />
<path class="th" d="M497.0 886.0 L497.0 903.0" />
<ellipse class="o" cx="516" cy="879" rx="3.5" ry="4" transform="rotate(0 516 879)" />
<ellipse class="o" cx="538" cy="866" rx="3.5" ry="4" transform="rotate(0 538 866)" />
<path class="o" d="M560.0 848.0 L590.0 832.0 L590.0 827.0" />
<path class="o" d="M571 843 L571 852 Q576 856 581 852 L581 838" style="stroke-width:1.3"/>
<path class="th" d="M571 847 Q576 849 581 846" />
<ellipse class="th" cx="563.7" cy="837" rx="1.8" ry="1.08" transform="rotate(0 563.7 837)" style="stroke-width:1.2"/>
<path class="th" d="M460 868 L460 896"/>
<g transform="translate(460 904) scale(1.0)"><path class="f" style="stroke-width:1.2" d="M-2.5 -7 L-2.5 -1 L2.5 -1 L2.5 -7 Z"/><path class="f" style="stroke-width:1.3" d="M-4.5 -1 L-4.5 5 Q0 8 4.5 5 L4.5 -1 Q0 -3 -4.5 -1 Z"/><path class="th" style="stroke-width:0.7" d="M-2.5 -5 L2.5 -5 M-2.5 -3 L2.5 -3 M0 1 L0 5"/></g>
<path class="th" d="M485 893 L485 910"/>
<g transform="translate(485 918) scale(1.0)"><path class="f" style="stroke-width:1.2" d="M-2.5 -7 L-2.5 -1 L2.5 -1 L2.5 -7 Z"/><path class="f" style="stroke-width:1.3" d="M-4.5 -1 L-4.5 5 Q0 8 4.5 5 L4.5 -1 Q0 -3 -4.5 -1 Z"/><path class="th" style="stroke-width:0.7" d="M-2.5 -5 L2.5 -5 M-2.5 -3 L2.5 -3 M0 1 L0 5"/></g>
<path class="th" d="M563.3 850 L563.3 876"/>
<g transform="translate(563.3 884) scale(1.0)"><path class="f" style="stroke-width:1.2" d="M-2.5 -7 L-2.5 -1 L2.5 -1 L2.5 -7 Z"/><path class="f" style="stroke-width:1.3" d="M-4.5 -1 L-4.5 5 Q0 8 4.5 5 L4.5 -1 Q0 -3 -4.5 -1 Z"/><path class="th" style="stroke-width:0.7" d="M-2.5 -5 L2.5 -5 M-2.5 -3 L2.5 -3 M0 1 L0 5"/></g>
<path class="f" d="M294.7 918.4 L302 911.8 Q310 908 314.6 917 L312.4 911.8 L387.6 865.4 L389 862.4 L398 857.3 Q406 856 407.5 864 L400.8 869 L400 884.5 L390.5 893.4 L311.7 937.6 L297.7 944.2 L294.7 942 Z" />
<path class="th" d="M312.0 918.0 L389.0 872.0" />
<path class="th" d="M311.7 920.0 L311.7 937.6" />
<path class="th" d="M390.5 868.0 L390.5 893.4" />
<ellipse class="o" cx="307.3" cy="917.7" rx="5.5" ry="3.5" transform="rotate(0 307.3 917.7)" />
<ellipse class="th" cx="307.3" cy="917.7" rx="1.5" ry="0.8999999999999999" transform="rotate(0 307.3 917.7)" style="stroke-width:1.2"/>
<ellipse class="o" cx="399" cy="862.5" rx="5.5" ry="3.5" transform="rotate(0 399 862.5)" />
<ellipse class="th" cx="399" cy="862.5" rx="1.5" ry="0.8999999999999999" transform="rotate(0 399 862.5)" style="stroke-width:1.2"/>
<ellipse class="th" cx="323" cy="925" rx="1.3" ry="0.78" transform="rotate(0 323 925)" style="stroke-width:1.2"/>
<ellipse class="th" cx="372" cy="897" rx="1.3" ry="0.78" transform="rotate(0 372 897)" style="stroke-width:1.2"/>
<g transform="translate(308 955) scale(1.0)"><path class="f" style="stroke-width:1.2" d="M-2.5 -7 L-2.5 -1 L2.5 -1 L2.5 -7 Z"/><path class="f" style="stroke-width:1.3" d="M-4.5 -1 L-4.5 5 Q0 8 4.5 5 L4.5 -1 Q0 -3 -4.5 -1 Z"/><path class="th" style="stroke-width:0.7" d="M-2.5 -5 L2.5 -5 M-2.5 -3 L2.5 -3 M0 1 L0 5"/></g>
<g transform="translate(401.6 901) scale(1.0)"><path class="f" style="stroke-width:1.2" d="M-2.5 -7 L-2.5 -1 L2.5 -1 L2.5 -7 Z"/><path class="f" style="stroke-width:1.3" d="M-4.5 -1 L-4.5 5 Q0 8 4.5 5 L4.5 -1 Q0 -3 -4.5 -1 Z"/><path class="th" style="stroke-width:0.7" d="M-2.5 -5 L2.5 -5 M-2.5 -3 L2.5 -3 M0 1 L0 5"/></g>
<path class="th" d="M308 922 L308 946"/>
<path class="th" d="M401.6 866 L401.6 892"/>
<path class="f" d="M266.0 1018.0 L399.8 941.0 L403.0 943.0 L403.0 952.0 L548.0 1032.0 L597.0 1060.0 L605.7 1060.0 L606.8 1078.0 L469.4 1157.0 L273.8 1050.0 L268.0 1043.7 Z" />
<path class="th" d="M268.3 1022.7 L400.9 947.5" />
<path class="th" d="M275.0 1039.0 L365.5 987.3" />
<path class="th" d="M546.0 1048.0 L583.6 1069.0" />
<path class="o" d="M469.4 1136.0 L605.7 1060.0" />
<path class="o" d="M469.4 1136 L469.4 1152 Q469 1157 464 1155" />
<path class="th" d="M472.0 1141.0 L604.0 1066.0" />
<path class="th" d="M276.0 1046.0 L465.0 1150.0" />
<path class="f" d="M294.8 1059 L300 1056 L317 1066 L317 1070 L312 1073 L295 1063 Z" />
<path class="f" d="M416 1128.5 L421 1125 L438 1135 L438 1139.6 L433 1142 L416 1132 Z" />
<path class="f" d="M467 928 Q470 924 476 927 L484 934 Q486 940 481 941 L470 934 Z" />
<path class="th" d="M396.0 1078 Q394.0 1081 398.0 1082 L410.0 1074" style="stroke-width:1.1"/>
<path class="th" d="M404.5 1083 Q402.5 1086 406.5 1087 L418.5 1079" style="stroke-width:1.1"/>
<path class="th" d="M413.0 1088 Q411.0 1091 415.0 1092 L427.0 1084" style="stroke-width:1.1"/>
<path class="th" d="M421.5 1093 Q419.5 1096 423.5 1097 L435.5 1089" style="stroke-width:1.1"/>
<path class="th" d="M430.0 1098 Q428.0 1101 432.0 1102 L444.0 1094" style="stroke-width:1.1"/>
<path class="th" d="M438.5 1103 Q436.5 1106 440.5 1107 L452.5 1099" style="stroke-width:1.1"/>
<path class="th" d="M447.0 1108 Q445.0 1111 449.0 1112 L461.0 1104" style="stroke-width:1.1"/>
<path class="th" d="M460 1108 L490 1091"/>
<path class="th" d="M482 1096 L512 1079"/>
<path class="th" d="M504 1084 L534 1067"/>
<path class="f" d="M553 1040 L553 1030 Q557 1026 562 1030 L566 1042" />
<ellipse class="th" cx="558" cy="1033" rx="1.6" ry="0.96" transform="rotate(0 558 1033)" style="stroke-width:1.2"/>
<path class="f" d="M366.3 1040 Q366 1034 372 1031 L446 990 Q455 985 464 990 L536 1032 Q543 1036 542 1042 Q543 1048 536 1052 L468 1090 Q456 1096 444 1090 L372 1051 Q366 1047 366.3 1040 Z" />
<path class="th" d="M368.0 1045.0 L444.0 1086.0" />
<path class="th" d="M468.0 1086.0 L540.0 1046.0" />
<ellipse class="th" cx="383" cy="1040" rx="2.4" ry="1.44" transform="rotate(0 383 1040)" style="stroke-width:1.2"/>
<ellipse class="th" cx="528" cy="1040" rx="2.4" ry="1.44" transform="rotate(0 528 1040)" style="stroke-width:1.2"/>
<ellipse class="th" cx="456" cy="1082" rx="2.4" ry="1.44" transform="rotate(0 456 1082)" style="stroke-width:1.2"/>
<ellipse class="th" cx="383" cy="1077" rx="2.4" ry="1.44" transform="rotate(0 383 1077)" style="stroke-width:1.2"/>
<ellipse class="th" cx="528" cy="1077" rx="2.4" ry="1.44" transform="rotate(0 528 1077)" style="stroke-width:1.2"/>
<path class="ds" d="M383 1045 L383 1075"/>
<path class="ds" d="M528 1045 L528 1075"/>
<path class="f" d="M398 1040 Q400 1056 424 1064 L428 1058 Q412 1052 406 1042 Z" style="stroke-width:1.9"/>
<path class="f" d="M512 1040 Q510 1054 490 1062 L486 1056 Q500 1050 504 1042 Z" style="stroke-width:1.9"/>
<path class="f" d="M424 1060 L430 1055 Q455 1060 482 1055 L488 1060 Q455 1076 424 1066 Z" style="stroke-width:1.7"/>
<ellipse class="f" cx="455" cy="1034" rx="58" ry="23" transform="rotate(0 455 1034)" style="stroke-width:1.9"/>
<ellipse class="th" cx="455" cy="1031.6" rx="53" ry="18.4" transform="rotate(0 455 1031.6)" style="stroke-width:1.2"/>
<ellipse class="th" cx="455" cy="1033" rx="47" ry="13" transform="rotate(0 455 1033)" />
<path class="o" d="M409 1030 Q420 1022 446 1021 L446 1044 Q425 1043 409 1036 Z" style="stroke-width:1.3"/>
<path class="o" d="M501 1030 Q490 1022 464 1021 L464 1044 Q485 1043 501 1036 Z" style="stroke-width:1.3"/>
<path class="f" d="M369.5 983 Q367 977 376 972 L444 933 Q452 928 462 933 L537 974 Q544 979 542 987 L476 1028 Q468 1033 459 1029 L376 991 Q370 988 369.5 983 Z" />
<path class="th" d="M372.0 989.0 L458.0 1030.0" />
<path class="th" d="M476.0 1032.0 L540.0 991.0" />
<path class="o" d="M394 978 Q396 956 455 945 Q514 950 517 976 Q516 1004 455 1015 Q396 1008 394 978 Z" style="stroke-width:1.9"/>
<path class="th" d="M398 979 Q401 960 455 948.5 Q510 954 513 977" style="stroke-width:1.2"/>
<ellipse class="th" cx="457" cy="1003" rx="46" ry="13.5" transform="rotate(0 457 1003)" style="stroke-width:1.3"/>
<ellipse class="th" cx="457" cy="1005" rx="36" ry="10" transform="rotate(0 457 1005)" />
<path class="th" d="M428 1008 Q436 994 457 992 Q480 993 488 1006" />
<path class="th" d="M436 1010 Q444 1000 457 999 Q472 1000 478 1010" />
<ellipse class="th" cx="442" cy="991" rx="2.5" ry="1.8" transform="rotate(0 442 991)" />
<ellipse class="th" cx="457" cy="991" rx="2.5" ry="1.8" transform="rotate(0 457 991)" />
<ellipse class="th" cx="472" cy="991" rx="2.5" ry="1.8" transform="rotate(0 472 991)" />
<path class="th" d="M441.0 990.0 L474.0 990.0" />
<path class="f" d="M447 1013 L447 1007 L466 1007 L466 1014" />
<path class="f" d="M448 943 Q447 948 450 949 L463 949 Q466 948 465 943 Q464 941 461 941 L451 941 Q448 941 448 943 Z" />
<path class="f" d="M510 972 L515 970 L517 979 L512 981 Z" />
<path class="f" d="M395 973 L401 971 L402 981 L397 982 Z" />
<path class="f" d="M445 983 Q444 970 452 969 Q460 971 461 984 L464 986" />
<ellipse class="th" cx="451" cy="977" rx="1.6" ry="0.96" transform="rotate(0 451 977)" style="stroke-width:1.2"/>
<ellipse class="th" cx="384" cy="980" rx="1.8" ry="1.08" transform="rotate(0 384 980)" style="stroke-width:1.2"/>
<ellipse class="th" cx="529.5" cy="980" rx="1.8" ry="1.08" transform="rotate(0 529.5 980)" style="stroke-width:1.2"/>
<ellipse class="th" cx="455.8" cy="1022" rx="1.8" ry="1.08" transform="rotate(0 455.8 1022)" style="stroke-width:1.2"/>
<ellipse class="th" cx="455.8" cy="938" rx="1.8" ry="1.08" transform="rotate(0 455.8 938)" style="stroke-width:1.2"/>
<path class="o" d="M416.8 958 L444 974" style="stroke-width:1.2"/>
<path class="th" d="M405 966.6 L435.8 984.5" />
<g transform="translate(534 929) rotate(150) scale(1.0)"><path class="f" style="stroke-width:1.2" d="M2 -1.9 L12 -1.9 L12 1.9 L2 1.9 Z"/><path class="th" style="stroke-width:0.7" d="M4.0 -1.9 L5.0 1.9 M6.2 -1.9 L7.2 1.9 M8.4 -1.9 L9.4 1.9"/><ellipse class="f" style="stroke-width:1.4" cx="1" cy="0" rx="3.2" ry="4.6"/><ellipse class="f" style="stroke-width:1.1" cx="-0.5" cy="0" rx="2.2" ry="4"/></g>
<g transform="translate(636 989) rotate(150) scale(1.0)"><path class="f" style="stroke-width:1.2" d="M2 -1.9 L12 -1.9 L12 1.9 L2 1.9 Z"/><path class="th" style="stroke-width:0.7" d="M4.0 -1.9 L5.0 1.9 M6.2 -1.9 L7.2 1.9 M8.4 -1.9 L9.4 1.9"/><ellipse class="f" style="stroke-width:1.4" cx="1" cy="0" rx="3.2" ry="4.6"/><ellipse class="f" style="stroke-width:1.1" cx="-0.5" cy="0" rx="2.2" ry="4"/></g>
<path class="th" d="M486 952 L528 932"/>
<path class="th" d="M560 1034 L628 994"/>
<path class="ds" d="M453 965 L486 950"/>
<path class="ds" d="M456 1026 L456 1080"/>
<path class="th" d="M383.4 1113 L383.4 1121"/>
<g transform="translate(383.4 1129) scale(1.0)"><path class="f" style="stroke-width:1.2" d="M-2 -8 L-2 -1 Q-4.2 2 -4 5 Q0 8.5 4 5 Q4.2 2 2 -1 L2 -8 Z"/></g>
<path class="th" d="M439.8 1146 L439.8 1152"/>
<g transform="translate(439.8 1160) scale(1.0)"><path class="f" style="stroke-width:1.2" d="M-2 -8 L-2 -1 Q-4.2 2 -4 5 Q0 8.5 4 5 Q4.2 2 2 -1 L2 -8 Z"/></g>
<path class="th" d="M456.8 1155 L456.8 1162"/>
<g transform="translate(456.8 1170) scale(1.0)"><path class="f" style="stroke-width:1.2" d="M-2 -8 L-2 -1 Q-4.2 2 -4 5 Q0 8.5 4 5 Q4.2 2 2 -1 L2 -8 Z"/></g>
<path class="th" d="M529.3 1122 L529.3 1138"/>
<g transform="translate(529.3 1146) scale(1.0)"><path class="f" style="stroke-width:1.2" d="M-2 -8 L-2 -1 Q-4.2 2 -4 5 Q0 8.5 4 5 Q4.2 2 2 -1 L2 -8 Z"/></g>
</g>
<g id="leaders" class="ld">
<path d="M425 219 L478 189 L712 189"/>
<path d="M450 312 L538 261 L751 261"/>
<path d="M749 346 L774 333"/>
<path d="M693 399 L741 399"/>
<path d="M598 486 L632 467 L759 467"/>
<path d="M739 535 L802 535"/>
<path d="M211 407.4 L502 407.4 L552 376"/>
<path d="M302 496 L481 496"/>
<path d="M617 673 L786 673"/>
<path d="M496 810 L762 810"/>
<path d="M529.5 879 L813 879"/>
<path d="M487.4 948 L789 948"/>
<path d="M505 1020 L795 1020"/>
<path d="M470.8 1085 L741 1085"/>
<path d="M218 933 L301 933"/>
<path d="M254 1048 L303 1048"/>
</g>
<g id="dots" fill="#111">
<circle cx="425" cy="219" r="1.8"/><circle cx="450" cy="312" r="1.8"/><circle cx="740" cy="351" r="1.8"/>
<circle cx="693" cy="399" r="1.8"/><circle cx="598" cy="486" r="1.8"/><circle cx="739" cy="535" r="1.8"/>
<circle cx="481" cy="496" r="1.8"/><circle cx="617" cy="673" r="1.8"/><circle cx="496" cy="810" r="1.8"/>
<circle cx="529.5" cy="879" r="1.8"/><circle cx="487.4" cy="948" r="1.8"/><circle cx="505" cy="1020" r="1.8"/>
<circle cx="470.8" cy="1085" r="1.8"/><circle cx="301" cy="933" r="1.8"/><circle cx="303" cy="1048" r="1.8"/>
</g>


<text class="wm" x="267.5" y="635.5" textLength="426" lengthAdjust="spacingAndGlyphs">ManualsLib.com</text>
</svg>
</body></html>
